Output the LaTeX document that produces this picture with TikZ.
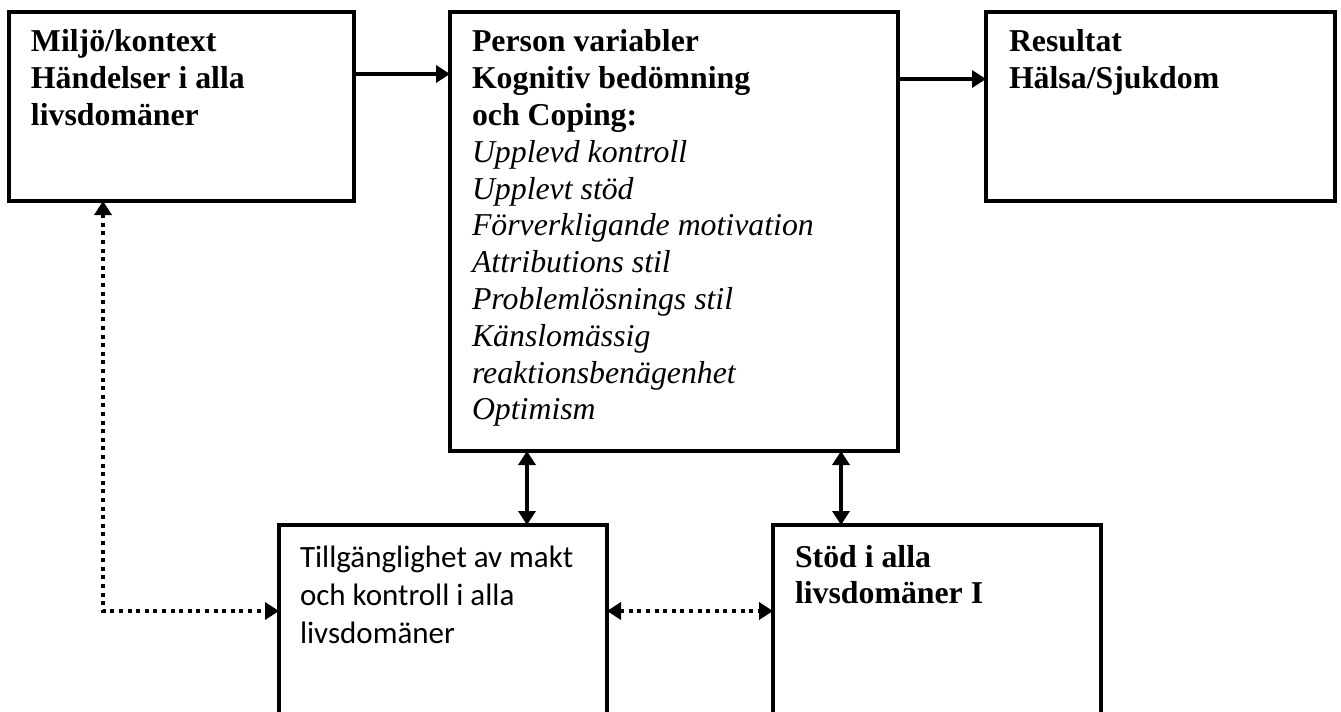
\documentclass[tikz,border=0pt]{standalone}
\usepackage{fontspec}
\setmainfont{Liberation Serif}
\newfontfamily\calibrifont{Carlito}
\usetikzlibrary{arrows.meta,calc}
\tikzset{
  box/.style={draw, line width=2.2pt, anchor=north west, inner sep=0pt, outer sep=0pt},
  txt/.style={anchor=base west, inner sep=0pt, outer sep=0pt},
  conn/.style={line width=1.7pt},
  tipend/.style={-{Triangle[length=7pt,width=8.5pt]}},
  tipboth/.style={{Triangle[length=7pt,width=8.5pt]}-{Triangle[length=7pt,width=8.5pt]}},
  dotline/.style={line width=2pt, dash pattern=on 2pt off 2.3pt},
}
\newcommand{\serifsize}{\fontsize{15.9}{18.4}\selectfont}
\newcommand{\calsize}{\fontsize{15.5}{19}\selectfont}
\begin{document}
\begin{tikzpicture}[x=0.5pt,y=-0.5pt]
\useasboundingbox (0,0) rectangle (1341,712);
\clip (0,0) rectangle (1341,712);
\fill[white] (0,0) rectangle (1341,712);

% boxes
\node[box, minimum width=172.5pt, minimum height=94.5pt] (A) at (9,12) {};
\node[box, minimum width=224pt, minimum height=219.5pt] (B) at (450,12) {};
\node[box, minimum width=174.5pt, minimum height=94.5pt] (C) at (986,12) {};
\node[box, minimum width=164pt, minimum height=107.5pt] (D) at (279,525) {};
\node[box, minimum width=164pt, minimum height=107.5pt] (E) at (773,525) {};

% texts
\node[txt] (At) at (31,52) {\parbox[t]{170pt}{\raggedright\serifsize\bfseries
  Miljö/kontext\\Händelser i alla\\livsdomäner}};
\node[txt] (Bt) at (472,52) {\parbox[t]{210pt}{\raggedright\serifsize
  \textbf{Person variabler}\\\textbf{Kognitiv bedömning}\\\textbf{och Coping:}\\
  \textit{Upplevd kontroll}\\\textit{Upplevt stöd}\\\textit{Förverkligande motivation}\\
  \textit{Attributions stil}\\\textit{Problemlösnings stil}\\\textit{Känslomässig}\\
  \textit{reaktionsbenägenhet}\\\textit{Optimism}}};
\node[txt] (Ct) at (1009,52) {\parbox[t]{160pt}{\raggedright\serifsize\bfseries
  Resultat\\Hälsa/Sjukdom}};
\node[txt] (Dt) at (300,567) {\parbox[t]{155pt}{\raggedright\calibrifont\calsize
  Tillgänglighet av makt\\och kontroll i alla\\livsdomäner}};
\node[txt] (Et) at (795,567) {\parbox[t]{155pt}{\raggedright\serifsize\bfseries
  Stöd i alla\\livsdomäner I}};

% connector endpoints
\coordinate (Ab) at ($(A.south west)+(94,0)$);
\coordinate (Dl) at ($(D.north west)+(0,86)$);
\coordinate (Dr) at ($(D.north east)+(0,86)$);
\coordinate (El) at ($(E.north west)+(0,86)$);

% solid arrows
\draw[conn,tipend] ($(A.north east)+(0,62)$) -- ($(B.north west)+(0,62)$);
\draw[conn,tipend] ($(B.north east)+(0,67)$) -- ($(C.north west)+(0,67)$);
\draw[conn,tipboth] ($(B.south west)+(77,0)$) -- ($(D.north west)+(248,0)$);
\draw[conn,tipboth] ($(B.south west)+(391,0)$) -- ($(E.north west)+(68,0)$);

% dotted arrows
\draw[dotline,tipboth] (Ab) |- (Dl);
\draw[dotline,tipboth] (Dr) -- (El);
\end{tikzpicture}
\end{document}
